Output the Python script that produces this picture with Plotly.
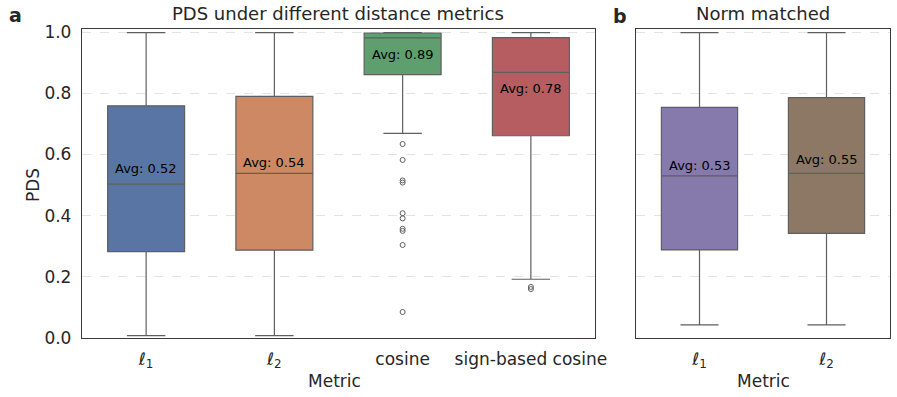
import plotly.graph_objects as go

# panel a: PDS under different distance metrics
metrics_a = ['l1', 'l2', 'cosine', 'sign-based cosine']
labels_a = ['<i>ℓ</i><sub>1</sub>', '<i>ℓ</i><sub>2</sub>', 'cosine', 'sign-based cosine']
q1_a = [0.282, 0.287, 0.861, 0.661]
med_a = [0.503, 0.538, 0.981, 0.868]
q3_a = [0.759, 0.790, 0.997, 0.982]
lo_a = [0.008, 0.008, 0.669, 0.192]
hi_a = [0.998, 0.998, 0.998, 0.998]
avg_a = [0.52, 0.54, 0.89, 0.78]
colors_a = ['#5975A4', '#CC8963', '#5F9E6E', '#B55D60']

outliers_cos = [0.634, 0.582, 0.515, 0.508, 0.408, 0.391, 0.357, 0.350, 0.304, 0.085]
outliers_sign = [0.167, 0.160]

# panel b: norm matched
metrics_b = ['l1', 'l2']
labels_b = ['<i>ℓ</i><sub>1</sub>', '<i>ℓ</i><sub>2</sub>']
q1_b = [0.288, 0.342]
med_b = [0.530, 0.538]
q3_b = [0.754, 0.786]
lo_b = [0.043, 0.043]
hi_b = [0.998, 0.998]
avg_b = [0.53, 0.55]
colors_b = ['#857AAB', '#8D7866']

W, H = 897, 397
LINE = '#5f5f5f'
FONT = 'DejaVu Sans'
TXT = '#262626'

fig = go.Figure()


def add_boxes(cats, q1, med, q3, lo, hi, colors, xa, ya):
    for i, c in enumerate(cats):
        fig.add_trace(go.Box(
            x=[c], q1=[q1[i]], median=[med[i]], q3=[q3[i]],
            lowerfence=[lo[i]], upperfence=[hi[i]], width=0.6,
            fillcolor=colors[i], line=dict(color=LINE, width=1.2),
            whiskerwidth=0.5, showlegend=False, hoverinfo='skip',
            xaxis=xa, yaxis=ya))


add_boxes(metrics_a, q1_a, med_a, q3_a, lo_a, hi_a, colors_a, 'x', 'y')
add_boxes(metrics_b, q1_b, med_b, q3_b, lo_b, hi_b, colors_b, 'x2', 'y2')

for cat, pts in [('cosine', outliers_cos), ('sign-based cosine', outliers_sign)]:
    fig.add_trace(go.Scatter(
        x=[cat] * len(pts), y=pts, mode='markers',
        marker=dict(symbol='circle-open', size=5, color=LINE, line=dict(width=1)),
        showlegend=False, hoverinfo='skip', xaxis='x', yaxis='y'))

annotations = []
for cats, avgs, xr, yr in [(metrics_a, avg_a, 'x', 'y'), (metrics_b, avg_b, 'x2', 'y2')]:
    for c, a in zip(cats, avgs):
        annotations.append(dict(
            x=c, y=a + 0.035, xref=xr, yref=yr, text=f'Avg: {a:.2f}',
            showarrow=False, font=dict(size=13, color='black', family=FONT)))


def paper_text(text, px, py, size, anchor='center', angle=0):
    return dict(x=px / W, y=1 - py / H, xref='paper', yref='paper', text=text,
                showarrow=False, textangle=angle, font=dict(size=size, color=TXT),
                xanchor=anchor, yanchor='middle')


annotations += [
    paper_text('PDS under different distance metrics', 338, 14, 18),
    paper_text('Norm matched', 763, 14, 18),
    paper_text('<b>a</b>', 7, 15, 19, 'left'),
    paper_text('<b>b</b>', 611, 16, 19, 'left'),
    paper_text('Metric', 334, 381, 17),
    paper_text('Metric', 763, 381, 17),
    paper_text('PDS', 33, 185, 17, angle=-90),
]

ydom = [(H - 338) / H, (H - 29) / H]
axis_common = dict(showline=True, linecolor='#3a3a3a', linewidth=1.3, mirror=True,
                   ticks='', tickfont=dict(size=17, color=TXT), automargin=False)
yaxis_common = dict(range=[0, 1.01], tickvals=[0, 0.2, 0.4, 0.6, 0.8, 1.0],
                    showgrid=True, gridcolor='#e3e3e3', griddash='dash', gridwidth=1,
                    zeroline=False, **axis_common)
xaxis_common = dict(type='category', categoryorder='array', showgrid=False,
                    ticklabelstandoff=5, **axis_common)

fig.update_layout(
    width=W, height=H,
    margin=dict(l=0, r=0, t=0, b=0),
    paper_bgcolor='white', plot_bgcolor='white',
    font=dict(family=FONT, color=TXT),
    boxmode='overlay',
    xaxis=dict(domain=[82 / W, 595 / W], categoryarray=metrics_a, tickvals=metrics_a,
               ticktext=labels_a, range=[-0.5, 3.5], anchor='y', **xaxis_common),
    yaxis=dict(domain=ydom, tickformat='.1f', anchor='x', ticklabelstandoff=6,
               **yaxis_common),
    xaxis2=dict(domain=[636 / W, 890 / W], categoryarray=metrics_b, tickvals=metrics_b,
                ticktext=labels_b, range=[-0.5, 1.5], anchor='y2', **xaxis_common),
    yaxis2=dict(domain=ydom, showticklabels=False, anchor='x2', **yaxis_common),
    annotations=annotations,
)

# the default page keeps an 8px body margin; drop it so the figure fills the window
fig.write_html('out.html', config={'displayModeBar': False},
               post_script="document.body.style.margin='0px';")
